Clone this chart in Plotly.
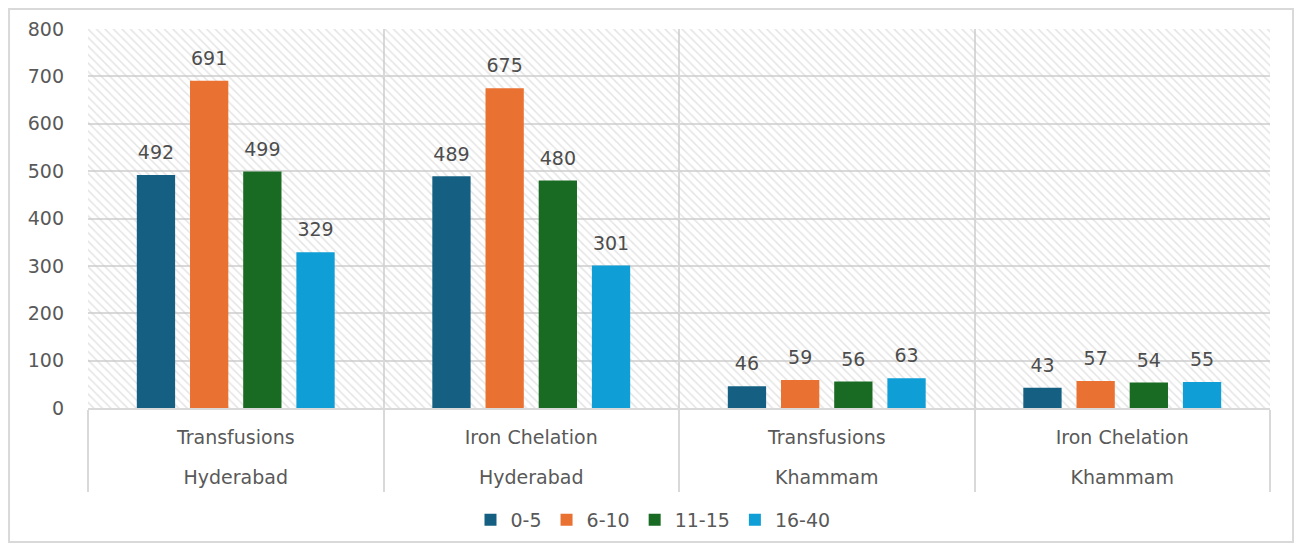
import plotly.graph_objects as go

procedures = ["Transfusions", "Iron Chelation", "Transfusions", "Iron Chelation"]
districts = ["Hyderabad", "Hyderabad", "Khammam", "Khammam"]
age_groups = ["0-5", "6-10", "11-15", "16-40"]
vals_0_5 = [492, 489, 46, 43]
vals_6_10 = [691, 675, 59, 57]
vals_11_15 = [499, 480, 56, 54]
vals_16_40 = [329, 301, 63, 55]
y_ticks = [0, 100, 200, 300, 400, 500, 600, 700, 800]

series = [vals_0_5, vals_6_10, vals_11_15, vals_16_40]
colors = ["#156082", "#E97132", "#196B24", "#0F9ED5"]
cat_keys = [f"{p}, {d}" for p, d in zip(procedures, districts)]
positions = list(range(len(cat_keys)))

GRID = "#d9d9d9"
TXT = "#595959"
FONT = "DejaVu Sans"

fig = go.Figure()

# hatched plot-area background (decoration on hidden base axes)
fig.add_trace(go.Bar(
    x=[0.5], y=[1], width=[1], xaxis="x", yaxis="y",
    marker=dict(color="rgba(0,0,0,0)", line_width=0,
                pattern=dict(shape="\\", fgcolor="#c9c9c9", bgcolor="rgba(0,0,0,0)",
                             size=6, solidity=0.25, fillmode="overlay")),
    showlegend=False, hoverinfo="skip"))

for name, vals, col in zip(age_groups, series, colors):
    fig.add_trace(go.Bar(
        x=cat_keys, y=vals, name=name, marker_color=col, marker_line_width=0,
        xaxis="x2", yaxis="y2", offsetgroup=name))

for name, vals in zip(age_groups, series):
    fig.add_trace(go.Scatter(
        x=cat_keys, y=vals, mode="markers+text", text=[str(v) for v in vals],
        textposition="top center",
        marker=dict(size=16, color="rgba(0,0,0,0)"),
        textfont=dict(family=FONT, size=19, color="#4d4d4d"),
        showlegend=False, hoverinfo="skip", xaxis="x2", yaxis="y2", offsetgroup=name))

# empty traces so the two label-row axes exist
fig.add_trace(go.Scatter(x=[], y=[], xaxis="x3", yaxis="y2", showlegend=False, hoverinfo="skip"))
fig.add_trace(go.Scatter(x=[], y=[], xaxis="x4", yaxis="y2", showlegend=False, hoverinfo="skip"))

label_axis = dict(overlaying="x", anchor="y2", type="linear", range=[-0.5, len(cat_keys) - 0.5],
                  tickmode="array", tickvals=positions, showgrid=False, zeroline=False,
                  showline=False, ticks="", automargin=False,
                  tickfont=dict(family=FONT, size=19, color=TXT))

fig.update_layout(
    width=1286, height=535,
    margin=dict(l=80, r=24, t=21, b=135, autoexpand=False),
    paper_bgcolor="white", plot_bgcolor="white",
    barmode="group", bargap=0.28, bargroupgap=0.28,
    scattermode="group",
    font=dict(family=FONT, size=19, color=TXT),
    xaxis=dict(range=[0, 1], visible=False, automargin=False),
    yaxis=dict(range=[0, 1], visible=False, automargin=False),
    xaxis2=dict(overlaying="x", anchor="y2", type="category", tickson="boundaries",
                showgrid=True, gridcolor=GRID, gridwidth=2,
                ticks="outside", ticklen=82, tickcolor=GRID, tickwidth=2,
                showline=True, linecolor=GRID, linewidth=2,
                showticklabels=False, automargin=False),
    xaxis3=dict(label_axis, ticktext=procedures, ticklabelstandoff=16),
    xaxis4=dict(label_axis, ticktext=districts, ticklabelstandoff=56),
    yaxis2=dict(overlaying="y", range=[0, 800], tickvals=y_ticks,
                showgrid=True, gridcolor=GRID, gridwidth=2, zeroline=False,
                showline=False, ticks="", ticklabelstandoff=23, automargin=False,
                tickfont=dict(family=FONT, size=19, color=TXT)),
    legend=dict(orientation="h", x=0.478, xanchor="center", y=-0.295, yanchor="middle",
                font=dict(family=FONT, size=19, color=TXT)),
    shapes=[dict(type="rect", xref="paper", yref="paper",
                 x0=-0.0668, x1=1.0195, y0=-0.3535, y1=1.0528,
                 line=dict(color=GRID, width=2), fillcolor="rgba(0,0,0,0)", layer="below")],
)

fig.write_html("out.html")
